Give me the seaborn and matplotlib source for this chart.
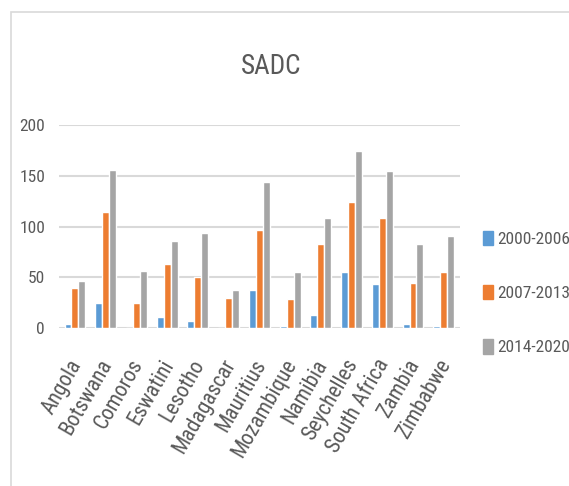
import pandas as pd
import numpy as np
import matplotlib
matplotlib.use("Agg")
import matplotlib.pyplot as plt
import matplotlib.transforms as mtransforms
from matplotlib import font_manager as fm
import seaborn as sns

sns.set_style("white")

# pick a narrow face if one is installed (the original uses Calibri)
ttf = fm.fontManager.ttflist
names = {f.name for f in ttf}
narrow = None
for n in ["Liberation Sans Narrow", "Roboto Condensed", "Open Sans Condensed", "Noto Sans Condensed"]:
    if n in names:
        narrow = n
        break
stretch = "normal"
if narrow is None and any(f.name == "DejaVu Sans" and "Condensed" in f.fname for f in ttf):
    narrow = "DejaVu Sans"
    stretch = "condensed"
if narrow:
    plt.rcParams['font.family'] = [narrow, 'DejaVu Sans']
    plt.rcParams['font.stretch'] = stretch
    fs, fs_x, fs_title = 12.5, 15.5, 19.5
else:
    plt.rcParams['font.family'] = ['Liberation Sans', 'DejaVu Sans']
    fs, fs_x, fs_title = 11, 13, 18

countries = ["Angola", "Botswana", "Comoros", "Eswatini", "Lesotho", "Madagascar",
             "Mauritius", "Mozambique", "Namibia", "Seychelles", "South Africa",
             "Zambia", "Zimbabwe"]
periods = ["2000-2006", "2007-2013", "2014-2020"]
vals_2000_2006 = [4, 25, 0, 11, 7, 0, 37, 2, 12.5, 55, 43, 4, 2]
vals_2007_2013 = [39, 114, 25, 63, 50, 30, 96.5, 28.5, 82.5, 124.5, 108, 44, 55]
vals_2014_2020 = [46, 156, 56, 86, 94, 37, 143.5, 55, 108, 174, 155, 82.5, 91]
colors = ["#5B9BD5", "#ED7D31", "#A5A5A5"]

df = pd.DataFrame({
    "Country": countries * 3,
    "Period": np.repeat(periods, len(countries)),
    "Value": vals_2000_2006 + vals_2007_2013 + vals_2014_2020,
})

fig = plt.figure(figsize=(5.69, 4.86), dpi=100)
# chart border like the spreadsheet frame
fig.patches.append(plt.Rectangle((11 / 569, -0.1), 1.2, 1 - 12 / 486 + 0.1,
                                 transform=fig.transFigure, fill=False,
                                 edgecolor="#D9D9D9", linewidth=1.2))
ax = fig.add_axes([59 / 569, 1 - 328 / 486, 401 / 569, 203 / 486])

sns.barplot(data=df, x="Country", y="Value", hue="Period", palette=colors,
            saturation=1, width=0.68, ax=ax, legend=False)

ax.set_ylim(0, 200)
ax.set_xlim(-0.52, 12.53)
ax.set_yticks([0, 50, 100, 150, 200])
ax.yaxis.grid(True, color="#D9D9D9", linewidth=1.5)
ax.set_axisbelow(True)
for s in ax.spines.values():
    s.set_visible(False)
ax.set_xlabel("")
ax.set_ylabel("")
ax.tick_params(axis="y", length=0, pad=10, labelsize=fs, labelcolor="#595959")
ax.tick_params(axis="x", length=0, pad=20, labelsize=fs_x, labelcolor="#595959")
shift = mtransforms.ScaledTranslation(-7 / 100, 0, fig.dpi_scale_trans)
for lab in ax.get_xticklabels():
    lab.set_rotation(60)
    lab.set_ha("right")
    lab.set_rotation_mode("anchor")
    lab.set_transform(lab.get_transform() + shift)

fig.text(271 / 569, 1 - 66 / 486, "SADC", ha="center", va="center",
         fontsize=fs_title, color="#595959")

handles = [plt.Rectangle((0, 0), 1, 1, color=c) for c in colors]
fig.legend(handles, periods, loc="center left", bbox_to_anchor=(478 / 569, 1 - 293 / 486),
           frameon=False, fontsize=fs, labelcolor="#595959", handlelength=0.55,
           handleheight=0.9, handletextpad=0.25, labelspacing=2.2,
           borderaxespad=0, borderpad=0.3)

fig.savefig("out.png", dpi=100)
